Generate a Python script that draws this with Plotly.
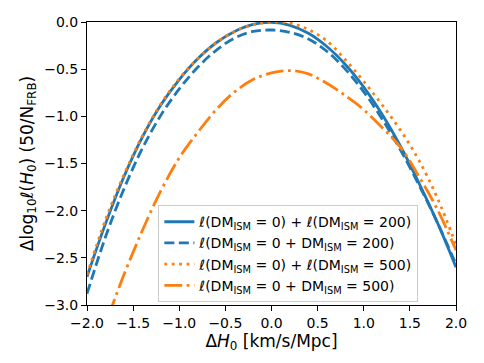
import plotly.graph_objs as go

# grid of delta H0 values
dh0 = [-2.0, -1.8, -1.6, -1.4, -1.2, -1.0, -0.8, -0.6, -0.4, -0.2, 0.0,
       0.2, 0.4, 0.6, 0.8, 1.0, 1.2, 1.4, 1.6, 1.8, 2.0]

# l(DM_ISM=0) + l(DM_ISM=200)
sum_200 = [-2.70, -2.14, -1.64, -1.22, -0.88, -0.61, -0.39, -0.22, -0.10, -0.025, -0.005,
           -0.035, -0.12, -0.26, -0.45, -0.69, -0.98, -1.32, -1.71, -2.13, -2.60]
# l(DM_ISM=0 + DM_ISM=200)
joint_200 = [-2.88, -2.28, -1.77, -1.34, -0.99, -0.71, -0.48, -0.30, -0.17, -0.10, -0.085,
             -0.11, -0.18, -0.31, -0.50, -0.74, -1.03, -1.36, -1.73, -2.13, -2.57]
# l(DM_ISM=0) + l(DM_ISM=500)
sum_500 = [-2.68, -2.10, -1.62, -1.21, -0.87, -0.60, -0.39, -0.22, -0.10, -0.03, 0.0,
           -0.01, -0.08, -0.20, -0.40, -0.63, -0.88, -1.15, -1.47, -1.87, -2.36]
# l(DM_ISM=0 + DM_ISM=500)
joint_500 = [-3.70, -3.20, -2.68, -2.21, -1.79, -1.44, -1.17, -0.93, -0.74, -0.61, -0.54,
             -0.515, -0.55, -0.65, -0.78, -0.93, -1.12, -1.33, -1.64, -1.99, -2.42]

labels = [
    'ℓ(DM<sub>ISM</sub> = 0) + ℓ(DM<sub>ISM</sub> = 200)',
    'ℓ(DM<sub>ISM</sub> = 0 + DM<sub>ISM</sub> = 200)',
    'ℓ(DM<sub>ISM</sub> = 0) + ℓ(DM<sub>ISM</sub> = 500)',
    'ℓ(DM<sub>ISM</sub> = 0 + DM<sub>ISM</sub> = 500)',
]

blue = '#1f77b4'
orange = '#ff7f0e'
lw = 2.8

series = [sum_200, joint_200, sum_500, joint_500]
colors = [blue, blue, orange, orange]
dashes = ['solid', '10px,4.5px', '2.8px,4.6px', '17.8px,4.5px,2.8px,4.5px']

data = []
for i, (yv, c, d) in enumerate(zip(series, colors, dashes)):
    data.append(go.Scatter(x=dh0, y=yv, mode='lines', name=labels[i],
                           line=dict(color=c, width=lw, dash=d, shape='spline')))

axis_style = dict(
    showline=True, linecolor='black', linewidth=1, mirror=True,
    showgrid=False, zeroline=False, automargin=False,
    ticks='outside', ticklen=5, tickwidth=1, tickcolor='black',
    tickformat='.1f', dtick=0.5,
)

# page body has an 8px margin, so the margins are shifted by that amount
layout = go.Layout(
    width=484, height=363,
    margin=dict(l=79, r=36, t=14, b=66),
    font=dict(family='DejaVu Sans', size=14, color='black'),
    plot_bgcolor='white', paper_bgcolor='white',
    xaxis=dict(range=[-2, 2], tick0=-2,
               title=dict(text='Δ<i>H</i><sub>0</sub> [km/s/Mpc]', standoff=4),
               **axis_style),
    yaxis=dict(range=[-3, 0], tick0=-3,
               title=dict(text='Δlog<sub>10</sub>ℓ(<i>H</i><sub>0</sub>) (50/N<sub>FRB</sub>)', standoff=6),
               **axis_style),
    legend=dict(x=0.898, y=0.01, xanchor='right', yanchor='bottom',
                bgcolor='rgba(255,255,255,0.8)', bordercolor='#cccccc', borderwidth=1,
                font=dict(size=14)),
    showlegend=True,
)

fig = go.Figure(data=data, layout=layout)
fig.write_html("out.html")
